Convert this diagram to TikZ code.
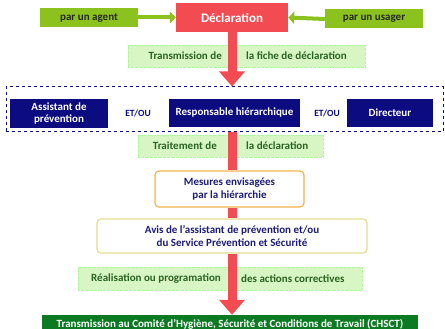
\documentclass[tikz,border=0pt]{standalone}
\usepackage{fontspec}
\setmainfont{Carlito}
\usetikzlibrary{arrows.meta}
\definecolor{declred}{RGB}{242,76,82}
\definecolor{leaf}{RGB}{140,194,30}
\definecolor{lblfill}{RGB}{216,245,196}
\definecolor{lbltext}{RGB}{40,100,30}
\definecolor{navy}{RGB}{12,12,128}
\definecolor{navytext}{RGB}{28,28,120}
\definecolor{orangeb}{RGB}{245,178,80}
\definecolor{yellowb}{RGB}{228,220,140}
\definecolor{darkgreen}{RGB}{12,122,34}
\tikzset{
  declbox/.style={fill=declred,text=white,font=\bfseries\fontsize{13}{14}\selectfont,minimum width=112pt,minimum height=29pt,inner sep=0pt},
  srcbox/.style={fill=leaf,text=black!85,font=\bfseries\fontsize{11}{12}\selectfont,minimum width=98pt,minimum height=19pt,inner sep=0pt},
  srcarrow/.style={draw=leaf,line width=4pt,-{Triangle[width=12pt,length=6pt]}},
  lblbox/.style={fill=lblfill,draw=lblfill!80!green,densely dotted,line width=0.3pt,inner sep=0pt},
  lbltxt/.style={text=lbltext,font=\bfseries\fontsize{11}{12}\selectfont,inner sep=0pt},
  actor/.style={fill=navy,text=white,font=\bfseries\fontsize{11}{12.5}\selectfont,align=center,inner sep=0pt},
  etou/.style={text=navy,font=\bfseries\fontsize{9.5}{10}\selectfont,inner sep=0pt},
  roundbox/.style={fill=white,rounded corners=4pt,line width=1.2pt,text=navytext,font=\bfseries\fontsize{11}{12.5}\selectfont,align=center,inner sep=0pt},
  stem/.style={draw=declred,line width=9pt},
  stemarrow/.style={draw=declred,line width=9pt,-{Triangle[width=25pt,length=15pt]}},
}
\begin{document}
\begin{tikzpicture}[x=1pt,y=-1pt]
\useasboundingbox (0,0) rectangle (445,329);
% sources
\node[declbox] (decl) at (232,17.5) {Déclaration};
\node[srcbox] (agent) at (89,17.5) {par un agent};
\node[srcbox] (usager) at (374,19) {par un usager};
\draw[srcarrow] (agent.east) -- (decl.west);
\draw[srcarrow] (usager.west) -- (decl.east);
% label 1
\node[lblbox,minimum width=237pt,minimum height=22pt] (lbl1) at (246.5,56) {};
\node[lbltxt,anchor=east] (l1a) at (222,56) {Transmission de};
\node[lbltxt,anchor=west] (l1b) at (246,56) {la fiche de déclaration};
% actors
\node[draw=navy,dashed,line width=1pt,minimum width=437pt,minimum height=45pt,inner sep=0pt] (group) at (224.5,109.5) {};
\node[actor,minimum width=98pt,minimum height=29pt] (assist) at (59,113.5) {Assistant de\\prévention};
\node[etou] (et1) at (138,113.5) {ET/OU};
\node[actor,minimum width=131pt,minimum height=28pt] (resp) at (234.5,113) {Responsable hiérarchique};
\node[etou] (et2) at (327,113.5) {ET/OU};
\node[actor,minimum width=86pt,minimum height=28pt] (dir) at (390,113) {Directeur};
% label 2
\node[lblbox,minimum width=185pt,minimum height=22pt] (lbl2) at (230.5,146) {};
\node[lbltxt,anchor=east] (l2a) at (217,146) {Traitement de};
\node[lbltxt,anchor=west] (l2b) at (246,146) {la déclaration};
% measures
\node[roundbox,draw=orangeb,minimum width=149pt,minimum height=36pt] (mes) at (229.5,189) {Mesures envisagées\\par la hiérarchie};
\node[roundbox,draw=yellowb,minimum width=270pt,minimum height=34pt] (avis) at (232,236) {Avis de l'assistant de prévention et/ou\\du Service Prévention et Sécurité};
% label 3
\node[lblbox,minimum width=284pt,minimum height=23pt] (lbl3) at (220,278.5) {};
\node[lbltxt,anchor=east] (l3a) at (221,278.5) {Réalisation ou programation};
\node[lbltxt,anchor=west] (l3b) at (241,278.5) {des actions correctives};
% final
\node[fill=darkgreen,text=white,font=\bfseries\fontsize{11}{12}\selectfont,minimum width=376pt,minimum height=18pt,inner sep=0pt] (chsct) at (230,324) {Transmission au Comité d'Hygiène, Sécurité et Conditions de Travail (CHSCT)};
% red flow
\draw[stemarrow] (decl.south) -- (decl.south |- group.north);
\draw[stem] (resp.south |- group.south) ++(-2.5,0) coordinate (g1) -- (g1 |- mes.north);
\draw[stem] (mes.south) ++(2.5,0) coordinate (m1) -- (m1 |- avis.north);
\draw[stemarrow] (avis.south) -- (avis.south |- chsct.north);
\end{tikzpicture}
\end{document}
